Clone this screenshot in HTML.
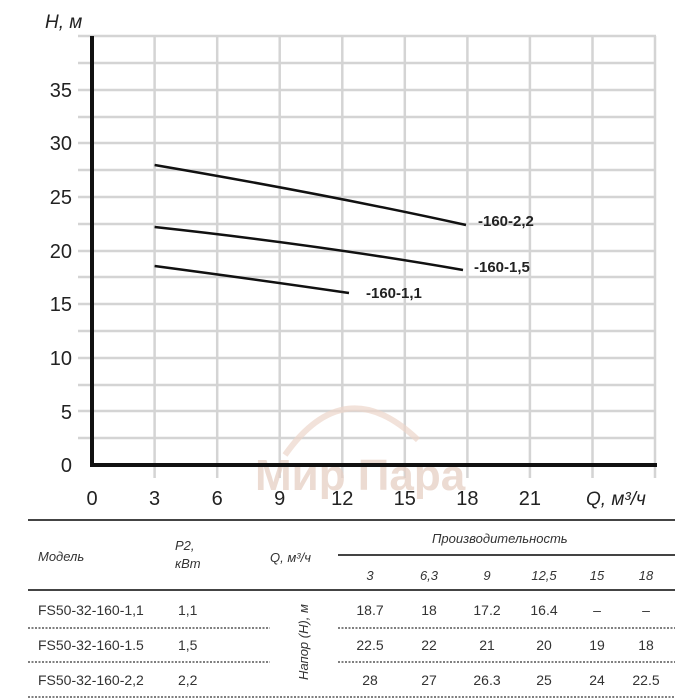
<!DOCTYPE html>
<html><head><meta charset="utf-8"><style>
body{margin:0;background:#fff;}
svg{display:block;font-family:"Liberation Sans","DejaVu Sans",sans-serif;}
</style></head><body>
<svg width="700" height="700" viewBox="0 0 700 700" xmlns="http://www.w3.org/2000/svg">
<rect width="700" height="700" fill="#fff"/>
<g stroke="#d4d4d4" stroke-width="2.5">
<line x1="154.6" y1="36" x2="154.6" y2="478"/>
<line x1="217.2" y1="36" x2="217.2" y2="478"/>
<line x1="279.7" y1="36" x2="279.7" y2="478"/>
<line x1="342.3" y1="36" x2="342.3" y2="478"/>
<line x1="404.8" y1="36" x2="404.8" y2="478"/>
<line x1="467.4" y1="36" x2="467.4" y2="478"/>
<line x1="529.9" y1="36" x2="529.9" y2="478"/>
<line x1="592.5" y1="36" x2="592.5" y2="478"/>
<line x1="655" y1="36" x2="655" y2="478"/>
<line x1="78" y1="36" x2="656" y2="36"/>
<line x1="78" y1="63" x2="656" y2="63"/>
<line x1="78" y1="90" x2="656" y2="90"/>
<line x1="78" y1="117" x2="656" y2="117"/>
<line x1="78" y1="143" x2="656" y2="143"/>
<line x1="78" y1="170" x2="656" y2="170"/>
<line x1="78" y1="197" x2="656" y2="197"/>
<line x1="78" y1="224" x2="656" y2="224"/>
<line x1="78" y1="251" x2="656" y2="251"/>
<line x1="78" y1="277" x2="656" y2="277"/>
<line x1="78" y1="304" x2="656" y2="304"/>
<line x1="78" y1="331" x2="656" y2="331"/>
<line x1="78" y1="358" x2="656" y2="358"/>
<line x1="78" y1="385" x2="656" y2="385"/>
<line x1="78" y1="411" x2="656" y2="411"/>
<line x1="78" y1="438" x2="656" y2="438"/>
</g>
<text x="255" y="490" font-size="44" font-weight="bold" fill="#e6cfc4" opacity="0.75">Мир Пара</text>
<path d="M285 455 Q345 370 418 440" stroke="#ecd6cb" stroke-width="6" fill="none" opacity="0.7"/>
<line x1="92" y1="36" x2="92" y2="466" stroke="#111" stroke-width="4"/>
<line x1="90" y1="465" x2="657" y2="465" stroke="#111" stroke-width="4"/>
<g stroke="#111" stroke-width="2.5" fill="none">
<path d="M154.6 165 Q330 195 466 225"/>
<path d="M154.6 227 Q320 245 463 270"/>
<path d="M154.6 266 Q260 280 349 293"/>
</g>
<g font-size="15" font-weight="bold" fill="#222">
<text x="478" y="226">-160-2,2</text>
<text x="474" y="272">-160-1,5</text>
<text x="366" y="298">-160-1,1</text>
</g>
<g font-size="20" fill="#222" text-anchor="end">
<text x="72" y="97">35</text><text x="72" y="150">30</text><text x="72" y="204">25</text>
<text x="72" y="258">20</text><text x="72" y="311">15</text><text x="72" y="365">10</text>
<text x="72" y="419">5</text><text x="72" y="472">0</text>
</g>
<g font-size="20" fill="#222" text-anchor="middle">
<text x="92" y="505">0</text><text x="154.6" y="505">3</text><text x="217.2" y="505">6</text>
<text x="279.7" y="505">9</text><text x="342.3" y="505">12</text><text x="404.8" y="505">15</text>
<text x="467.4" y="505">18</text><text x="529.9" y="505">21</text>
</g>
<text x="586" y="505" font-size="19" font-style="italic" fill="#222">Q, м³/ч</text>
<text x="45" y="28" font-size="19" font-style="italic" fill="#222">H, м</text>
<line x1="28" y1="520" x2="675" y2="520" stroke="#444" stroke-width="2"/>
<line x1="338" y1="555" x2="675" y2="555" stroke="#444" stroke-width="2"/>
<line x1="28" y1="590" x2="675" y2="590" stroke="#444" stroke-width="2"/>
<g stroke="#555" stroke-width="1.5" stroke-dasharray="2,1.5">
<line x1="28" y1="628" x2="270" y2="628"/><line x1="338" y1="628" x2="675" y2="628"/>
<line x1="28" y1="662" x2="270" y2="662"/><line x1="338" y1="662" x2="675" y2="662"/>
<line x1="28" y1="697" x2="675" y2="697"/>
</g>
<g font-size="13" font-style="italic" fill="#333">
<text x="38" y="561">Модель</text>
<text x="175" y="550">P2,</text><text x="175" y="568">кВт</text>
<text x="270" y="562">Q, м³/ч</text>
<text x="432" y="543">Производительность</text>
</g>
<g font-size="13" font-style="italic" fill="#333" text-anchor="middle">
<text x="370" y="580">3</text><text x="429" y="580">6,3</text><text x="487" y="580">9</text>
<text x="544" y="580">12,5</text><text x="597" y="580">15</text><text x="646" y="580">18</text>
</g>
<text transform="translate(308,642) rotate(-90)" font-size="13" font-style="italic" fill="#333" text-anchor="middle">Напор (H), м</text>
<g font-size="14" fill="#333">
<text x="38" y="615">FS50-32-160-1,1</text><text x="178" y="615">1,1</text>
<text x="38" y="650">FS50-32-160-1.5</text><text x="178" y="650">1,5</text>
<text x="38" y="685">FS50-32-160-2,2</text><text x="178" y="685">2,2</text>
</g>
<g font-size="14" fill="#333" text-anchor="middle">
<text x="370" y="615">18.7</text><text x="429" y="615">18</text><text x="487" y="615">17.2</text><text x="544" y="615">16.4</text><text x="597" y="615">–</text><text x="646" y="615">–</text>
<text x="370" y="650">22.5</text><text x="429" y="650">22</text><text x="487" y="650">21</text><text x="544" y="650">20</text><text x="597" y="650">19</text><text x="646" y="650">18</text>
<text x="370" y="685">28</text><text x="429" y="685">27</text><text x="487" y="685">26.3</text><text x="544" y="685">25</text><text x="597" y="685">24</text><text x="646" y="685">22.5</text>
</g>
</svg>
</body></html>
